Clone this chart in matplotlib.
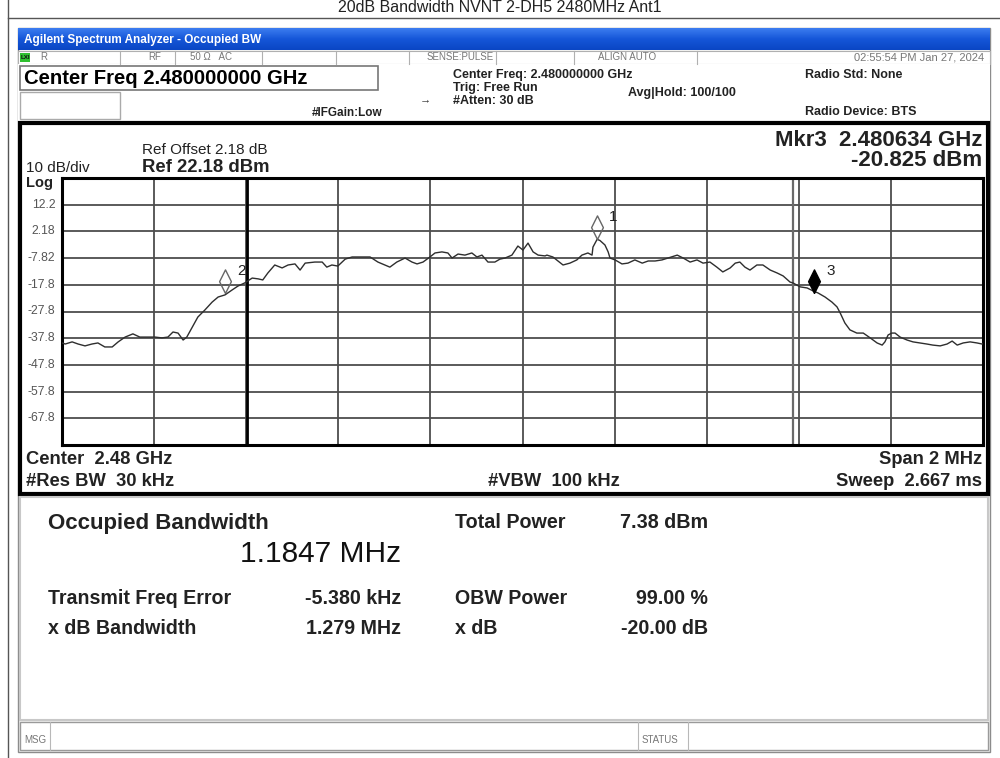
import numpy as np
import matplotlib
matplotlib.use('Agg')
import matplotlib.pyplot as plt
from matplotlib.patches import Rectangle
from matplotlib.colors import LinearSegmentedColormap

plt.rcParams['font.family'] = ['Liberation Sans', 'DejaVu Sans']

# trace: offset from 2.48 GHz (kHz) and level (dBm)
freq_khz = [-1000, -993, -978, -965, -950, -935, -922, -907, -891, -878, -863, -846,
            -831, -813, -798, -783, -770, -759, -748, -737, -729, -718, -705, -690,
            -674, -661, -646, -631, -618, -603, -587, -574, -564, -553, -538, -522,
            -509, -494, -483, -472, -451, -435, -425, -414, -401, -385, -370, -349,
            -331, -314, -299, -288, -273, -255, -240, -229, -216, -201, -190, -175,
            -162, -153, -140, -125, -110, -99, -88, -75, -60, -49, -38, -23, -10, 1,
            12, 23, 34, 49, 53, 66, 77, 88, 103, 118, 129, 142, 151, 153, 162, 168,
            179, 186, 190, 201, 216, 229, 244, 260, 273, 288, 303, 316, 336, 349, 364,
            379, 392, 407, 422, 435, 451, 462, 472, 483, 494, 509, 522, 538, 553, 566,
            581, 587, 603, 618, 631, 642, 657, 672, 683, 690, 700, 711, 726, 740, 755,
            770, 781, 787, 794, 802, 809, 820, 835, 848, 863, 878, 891, 907, 922, 933,
            944, 957, 972, 987, 998, 1000]
level_dbm = [-39.6, -40.0, -39.2, -40.0, -40.7, -40.0, -39.6, -41.1, -41.1, -39.2, -37.4, -36.2,
             -37.4, -37.4, -37.4, -37.7, -37.4, -35.5, -35.9, -38.5, -37.4, -34.0, -29.9, -27.3,
             -24.3, -22.4, -21.6, -19.8, -18.3, -17.1, -15.3, -15.6, -16.0, -13.4, -10.4, -11.5,
             -10.4, -10.0, -12.3, -9.7, -9.3, -9.3, -11.2, -10.4, -10.8, -8.2, -7.4, -7.4,
             -7.4, -9.3, -10.4, -11.2, -9.3, -7.8, -9.3, -10.0, -9.3, -7.4, -5.9, -5.5,
             -5.9, -7.8, -6.3, -6.7, -5.9, -7.4, -6.7, -9.3, -9.3, -8.2, -7.8, -6.7, -3.3, -4.8,
             -2.2, -5.5, -6.7, -7.0, -6.7, -7.4, -8.9, -10.4, -9.7, -8.5, -6.7, -5.9, -6.7, -3.7, -0.8, -1.2,
             -2.9, -5.5, -7.8, -8.5, -10.0, -9.7, -8.5, -9.7, -8.9, -8.9, -8.5, -7.8, -6.7, -7.8, -9.3,
             -8.5, -9.7, -9.3, -11.2, -13.0, -11.5, -9.7, -9.3, -11.2, -12.3, -10.4, -10.4, -12.3, -13.4, -14.5,
             -16.8, -17.1, -18.6, -19.0, -20.1, -20.9, -22.4, -24.3, -26.1, -28.4, -32.1, -34.7, -35.9, -35.9, -37.7,
             -39.6, -40.4, -39.2, -36.6, -35.9, -35.9, -37.4, -38.5, -39.2, -39.6, -40.0, -40.4, -40.7, -40.0, -38.9,
             -40.4, -39.6, -39.2, -39.6, -40.0, -39.8]

ref_level = 22.18
ytick_labels = ['12.2', '2.18', '-7.82', '-17.8', '-27.8', '-37.8', '-47.8', '-57.8', '-67.8']
obw_edges = [-597.7, 587.0]
mkr_names = ['1', '2', '3']
mkr_freq = [161.8, -645.0, 634.0]
mkr_level = [-0.8, -20.9, -20.825]

W, H = 1000, 758
fig = plt.figure(figsize=(W / 100, H / 100), dpi=100)
bg = fig.add_axes([0, 0, 1, 1])
bg.set_xlim(0, W)
bg.set_ylim(H, 0)
bg.axis('off')


def box(x0, y0, x1, y1, fc='none', ec='#9a9a9a', lw=1.0, z=1):
    bg.add_patch(Rectangle((x0, y0), x1 - x0, y1 - y0, facecolor=fc, edgecolor=ec, lw=lw, zorder=z))


def txt(x, y, s, size=9, bold=False, color='black', ha='left', va='center', **kw):
    bg.text(x, y, s, fontsize=size, fontweight='bold' if bold else 'normal',
            color=color, ha=ha, va=va, **kw)


# page frame and title
bg.plot([8, 8], [0, H], color='#555555', lw=1)
bg.plot([8, W], [18, 18], color='#555555', lw=1)
txt(500, 12, '20dB Bandwidth NVNT 2-DH5 2480MHz Ant1', size=11.5, ha='center', va='baseline', color='#222222')

# analyzer window
box(18, 28, 990, 752, fc='#f4f4f2', ec='#8c8c8c', lw=1)
blue = LinearSegmentedColormap.from_list('bar', ['#3c7df0', '#1556d8', '#0a46c4'])
bg.imshow(np.linspace(0, 1, 50).reshape(-1, 1), extent=[18, 990, 50, 28], cmap=blue,
          aspect='auto', zorder=2)
bg.set_xlim(0, W)
bg.set_ylim(H, 0)
txt(24, 39.5, 'Agilent Spectrum Analyzer - Occupied BW', size=8.5, bold=True, color='white', zorder=3)

# status row
box(18, 51, 990, 64, fc='white', ec='#b0b0b0', lw=0.8)
for sx in [120, 175, 262, 336, 409, 496, 574, 697]:
    bg.plot([sx, sx], [51, 64], color='#b0b0b0', lw=0.8)
box(20, 53, 30, 62, fc='#2fc02f', ec='none', z=2)
txt(21, 57.5, 'LXI', size=4.5, bold=True, color='#111111', zorder=3)
txt(40, 57.5, 'R', size=7, color='#777777')
txt(148, 57.5, 'RF', size=7, color='#777777')
txt(190, 57.5, '50 Ω   AC', size=7, color='#777777')
txt(427, 57.5, 'SENSE:PULSE', size=7, color='#777777')
txt(598, 57.5, 'ALIGN AUTO', size=7, color='#777777')
txt(984, 57.5, '02:55:54 PM Jan 27, 2024', size=8, color='#777777', ha='right')

# header
box(18, 64, 990, 121, fc='white', ec='none')
box(20, 66, 378, 90, fc='white', ec='#777777', lw=1.2)
txt(24, 78.5, 'Center Freq 2.480000000 GHz', size=14.6, bold=True)
box(20, 92, 120, 119, fc='white', ec='#aaaaaa', lw=1)
txt(312, 113, '#IFGain:Low', size=8.5, bold=True, color='#222222')
txt(425, 99, '→', size=8, color='#333333', ha='center')
txt(453, 75, 'Center Freq: 2.480000000 GHz', size=9, bold=True, color='#222222')
txt(453, 88, 'Trig: Free Run', size=9, bold=True, color='#222222')
txt(453, 101, '#Atten: 30 dB', size=9, bold=True, color='#222222')
txt(628, 93, 'Avg|Hold: 100/100', size=9, bold=True, color='#222222')
txt(805, 75, 'Radio Std: None', size=9, bold=True, color='#222222')
txt(805, 112, 'Radio Device: BTS', size=9, bold=True, color='#222222')

# trace display frame
box(20, 123, 988, 494, fc='white', ec='black', lw=3)
txt(142, 150, 'Ref Offset 2.18 dB', size=11, color='#222222')
txt(142, 167, 'Ref 22.18 dBm', size=13.3, bold=True, color='#222222')
txt(26, 168, '10 dB/div', size=11, color='#222222')
txt(26, 183, 'Log', size=10.5, bold=True, color='#222222')
txt(982, 141, 'Mkr3  2.480634 GHz', size=16, bold=True, ha='right', color='#222222')
txt(982, 160, '-20.825 dBm', size=16, bold=True, ha='right', color='#222222')
txt(26, 460, 'Center  2.48 GHz', size=13.2, bold=True, color='#222222')
txt(26, 481, '#Res BW  30 kHz', size=13.2, bold=True, color='#222222')
txt(488, 481, '#VBW  100 kHz', size=13.2, bold=True, color='#222222')
txt(982, 460, 'Span 2 MHz', size=13.2, bold=True, ha='right', color='#222222')
txt(982, 481, 'Sweep  2.667 ms', size=13.2, bold=True, ha='right', color='#222222')

# results panel
box(20, 497, 988, 720, fc='white', ec='#c8c8c8', lw=1.5)
txt(48, 524, 'Occupied Bandwidth', size=16, bold=True, color='#222222')
txt(401, 554, '1.1847 MHz', size=21.5, ha='right', color='#111111')
txt(455, 522, 'Total Power', size=14.2, bold=True, color='#222222')
txt(708, 522, '7.38 dBm', size=14.2, bold=True, ha='right', color='#222222')
txt(48, 599, 'Transmit Freq Error', size=14.1, bold=True, color='#222222')
txt(401, 599, '-5.380 kHz', size=14.1, bold=True, ha='right', color='#222222')
txt(455, 599, 'OBW Power', size=14.1, bold=True, color='#222222')
txt(708, 599, '99.00 %', size=14.1, bold=True, ha='right', color='#222222')
txt(48, 629, 'x dB Bandwidth', size=14.1, bold=True, color='#222222')
txt(401, 629, '1.279 MHz', size=14.1, bold=True, ha='right', color='#222222')
txt(455, 629, 'x dB', size=14.1, bold=True, color='#222222')
txt(708, 629, '-20.00 dB', size=14.1, bold=True, ha='right', color='#222222')

# message bar
box(20, 722, 988, 750, fc='white', ec='#9a9a9a', lw=1)
for sx in [50, 638, 688]:
    bg.plot([sx, sx], [722, 750], color='#b8b8b8', lw=0.8)
txt(24, 740, 'MSG', size=7, color='#777777')
txt(642, 740, 'STATUS', size=7, color='#777777')

# graticule
x0, y0, x1, y1 = 62, 178, 983, 445
ax = fig.add_axes([x0 / W, 1 - y1 / H, (x1 - x0) / W, (y1 - y0) / H])
ax.set_xlim(-1000, 1000)
ax.set_ylim(ref_level - 100, ref_level)
ax.set_xticks(np.linspace(-1000, 1000, 11))
ax.set_yticks(np.linspace(ref_level - 100, ref_level, 11))
ax.grid(True, color='#4d4d4d', lw=1.3)
ax.tick_params(length=0, labelbottom=False, labelleft=False)
for sp in ax.spines.values():
    sp.set_linewidth(2.2)
    sp.set_color('black')
ax.axvline(obw_edges[0], color='black', lw=2.0)
ax.axvline(obw_edges[1], color='#6a6a6a', lw=1.6)
for i, lab in enumerate(ytick_labels):
    ax.text(-0.007, ref_level - 10 * (i + 1), lab, transform=ax.get_yaxis_transform(),
            ha='right', va='center', fontsize=8.8, color='#555555')

ax.plot(freq_khz, level_dbm, color='#2e2e2e', lw=1.0, zorder=3)

diamond = [(0, 0), (6, 12), (0, 24), (-6, 12), (0, 0)]
for name, f, lv in zip(mkr_names, mkr_freq, mkr_level):
    filled = name == '3'
    ax.plot([f], [lv], marker=diamond, markersize=34, linestyle='none',
            markerfacecolor='black' if filled else 'none',
            markeredgecolor='black' if filled else '#666666', markeredgewidth=1.0, zorder=4)
    ax.annotate(name, (f, lv), xytext=(12, 22), textcoords='offset pixels',
                fontsize=11, ha='left', va='center', color='#222222', zorder=5,
                bbox=dict(boxstyle='square,pad=0.1', fc='white', ec='none') if filled else None)

fig.savefig('out.png', dpi=100)
